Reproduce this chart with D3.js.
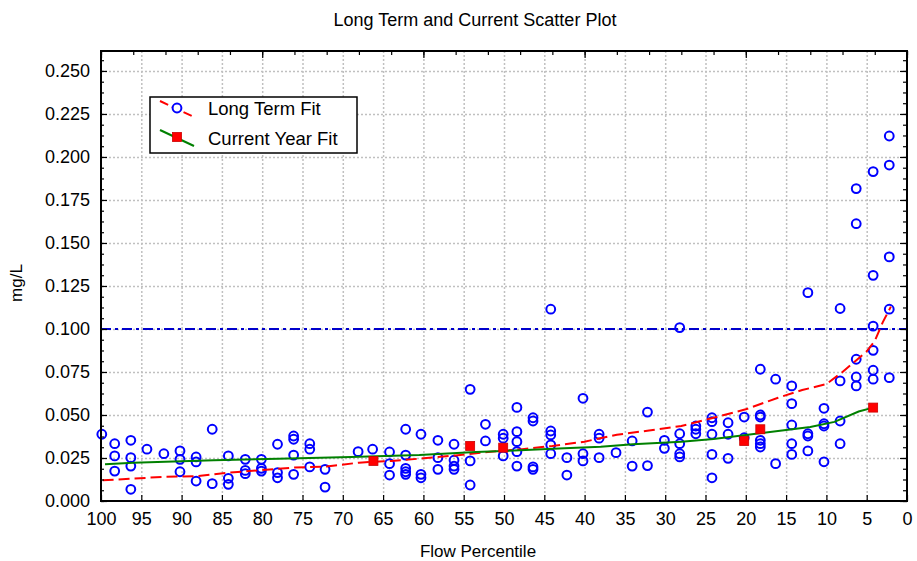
<!DOCTYPE html>
<html>
<head>
<meta charset="utf-8">
<script src="https://cdn.jsdelivr.net/npm/d3@7"></script>
<style>
  body { margin: 0; background: #fff; }
  text { font-family: "Liberation Sans", Arial, sans-serif; }
  .grid line { stroke: #c0c0c0; stroke-width: 1.5; stroke-dasharray: 2,2; }
  .grid path { display: none; }
  .axis path { display: none; }
  .axis line { stroke: #000; stroke-width: 1.2; }
  .axis text { font-size: 18px; fill: #000; }
</style>
</head>
<body>
<div class="chart"></div>
<script>
// Long term observations (flow percentile, mg/L)
const ltFlow = [
  99.9,
  98.3, 98.3, 98.3,
  96.3, 96.3, 96.3, 96.3,
  94.3, 92.2,
  90.2, 90.2, 90.2,
  88.2, 88.2, 88.2,
  86.2, 86.2,
  84.2, 84.2, 84.2,
  82.1, 82.1, 82.1,
  80.1, 80.1, 80.1,
  78.1, 78.1, 78.1,
  76.1, 76.1, 76.1, 76.1,
  74.1, 74.1, 74.1,
  72.2, 72.2,
  68.1, 66.3,
  64.2, 64.2, 64.2,
  62.2, 62.2, 62.2, 62.2, 62.2,
  60.3, 60.3, 60.3,
  58.2, 58.2, 58.2,
  56.2, 56.2, 56.2, 56.2,
  54.2, 54.2, 54.2,
  52.3, 52.3,
  50.1, 50.1, 50.1,
  48.4, 48.4, 48.4, 48.4, 48.4,
  46.4, 46.4, 46.4, 46.4,
  44.2, 44.2, 44.2, 44.2, 44.2,
  42.2, 42.2,
  40.2, 40.2, 40.2,
  38.2, 38.2, 38.2,
  36.1,
  34.1, 34.1,
  32.2, 32.2,
  30.1, 30.1,
  28.2, 28.2, 28.2, 28.2, 28.2,
  26.2, 26.2, 26.2,
  24.2, 24.2, 24.2, 24.2, 24.2,
  22.2, 22.2, 22.2,
  20.2, 20.2,
  18.2, 18.2, 18.2, 18.2, 18.2, 18.2,
  16.3, 16.3,
  14.3, 14.3, 14.3, 14.3, 14.3,
  12.3, 12.3, 12.3, 12.3,
  10.3, 10.3, 10.3, 10.3,
  8.3, 8.3, 8.3, 8.3,
  6.3, 6.3, 6.3, 6.3, 6.3,
  4.2, 4.2, 4.2, 4.2, 4.2, 4.2,
  2.2, 2.2, 2.2, 2.2, 2.2
];
const ltConc = [
  0.0388,
  0.0333, 0.0262, 0.0174,
  0.0353, 0.0252, 0.0203, 0.0068,
  0.0301, 0.0275,
  0.0291, 0.0242, 0.0170,
  0.0256, 0.0227, 0.0116,
  0.0417, 0.0101,
  0.0262, 0.0132, 0.0097,
  0.0242, 0.0178, 0.0159,
  0.0242, 0.0190, 0.0174,
  0.0330, 0.0165, 0.0135,
  0.0378, 0.0359, 0.0267, 0.0155,
  0.0333, 0.0301, 0.0198,
  0.0184, 0.0081,
  0.0287, 0.0301,
  0.0285, 0.0217, 0.0151,
  0.0417, 0.0267, 0.0190, 0.0170, 0.0155,
  0.0388, 0.0155, 0.0135,
  0.0353, 0.0252, 0.0184,
  0.0330, 0.0237, 0.0203, 0.0184,
  0.0649, 0.0233, 0.0093,
  0.0446, 0.0349,
  0.0388, 0.0365, 0.0262,
  0.0544, 0.0403, 0.0345, 0.0287, 0.0203,
  0.0484, 0.0465, 0.0198, 0.0184,
  0.1115, 0.0407, 0.0384, 0.0326, 0.0275,
  0.0252, 0.0151,
  0.0597, 0.0275, 0.0233,
  0.0388, 0.0365, 0.0252,
  0.0281,
  0.0349, 0.0203,
  0.0517, 0.0206,
  0.0353, 0.0306,
  0.1008, 0.0391, 0.0333, 0.0275, 0.0256,
  0.0436, 0.0417, 0.0391,
  0.0484, 0.0461, 0.0388, 0.0271, 0.0135,
  0.0455, 0.0388, 0.0248,
  0.0488, 0.0368,
  0.0766, 0.0500, 0.0488, 0.0353, 0.0333, 0.0314,
  0.0708, 0.0217,
  0.0669, 0.0566, 0.0442, 0.0333, 0.0271,
  0.1211, 0.0391, 0.0378, 0.0291,
  0.0539, 0.0449, 0.0436, 0.0228,
  0.1119, 0.0698, 0.0465, 0.0333,
  0.1816, 0.1612, 0.0824, 0.0721, 0.0669,
  0.1915, 0.1312, 0.1017, 0.0876, 0.0760, 0.0708,
  0.2122, 0.1953, 0.1419, 0.1115, 0.0717
];

// Long term fit curve
const ltFitFlow = [99.8, 96, 92, 88, 84, 80, 76, 72, 68, 64, 60, 56, 52, 48, 44, 40, 36, 32, 28, 24, 20, 16, 13, 10, 8, 6.5, 5, 4, 3, 2];
const ltFitConc = [0.012, 0.013, 0.0141, 0.0145, 0.0165, 0.018, 0.0195, 0.0200, 0.0223, 0.0233, 0.0248, 0.0265, 0.0285, 0.0300, 0.0320, 0.0345, 0.0385, 0.0410, 0.0436, 0.0484, 0.0533, 0.0600, 0.0645, 0.0680, 0.0750, 0.0810, 0.0870, 0.0930, 0.1040, 0.1130];

// Current year fit curve and samples
const cyFitFlow = [99.5, 96, 86, 78, 69, 60.5, 53.5, 48, 42.5, 38, 34, 28, 24, 20, 16, 12, 9, 6, 4.2];
const cyFitConc = [0.0213, 0.0223, 0.0237, 0.0246, 0.0256, 0.0267, 0.0285, 0.0295, 0.0306, 0.0316, 0.0330, 0.0345, 0.0360, 0.0384, 0.0407, 0.0430, 0.0460, 0.0520, 0.0543];
const cyFlow = [66.2, 54.2, 50.1, 20.2, 18.2, 4.2];
const cyConc = [0.0233, 0.0320, 0.0310, 0.0349, 0.0417, 0.0543];

const threshold = 0.100;
const xTicks = [100, 95, 90, 85, 80, 75, 70, 65, 60, 55, 50, 45, 40, 35, 30, 25, 20, 15, 10, 5, 0];
const yTicks = [0, 0.025, 0.05, 0.075, 0.1, 0.125, 0.15, 0.175, 0.2, 0.225, 0.25];

const margin = { top: 51, right: 10, bottom: 60, left: 101 },
    width = 917 - margin.left - margin.right,
    height = 561 - margin.top - margin.bottom;

const root = d3.select(".chart")
    .append("svg")
    .attr("width", 917)
    .attr("height", 561);

const svg = root.append("g")
    .attr("transform", "translate(" + margin.left + "," + margin.top + ")");

const scaleX = d3.scaleLinear().domain([100, 0]).range([0, width]);
const scaleY = d3.scaleLinear().domain([0, 0.2616]).range([height, 0]);

// Grid
svg.append("g")
    .attr("class", "grid")
    .attr("transform", "translate(0," + height + ")")
    .call(d3.axisBottom(scaleX).tickValues(xTicks.slice(1, -1)).tickSize(-height).tickFormat(""));

svg.append("g")
    .attr("class", "grid")
    .call(d3.axisLeft(scaleY).tickValues(yTicks.slice(1)).tickSize(-width).tickFormat(""));

// Threshold line
svg.append("line")
    .attr("x1", 0).attr("x2", width)
    .attr("y1", scaleY(threshold)).attr("y2", scaleY(threshold))
    .attr("stroke", "#0000cc")
    .attr("stroke-width", 2)
    .attr("stroke-dasharray", "10,4,3,4");

// Long term points
svg.append("g")
    .selectAll("circle")
    .data(ltFlow)
    .enter().append("circle")
    .attr("cx", (d) => scaleX(d))
    .attr("cy", (d, i) => scaleY(ltConc[i]))
    .attr("r", 4.4)
    .attr("fill", "none")
    .attr("stroke", "#0000ff")
    .attr("stroke-width", 2);

const lineFunc = d3.line()
    .x((d) => scaleX(d[0]))
    .y((d) => scaleY(d[1]));

// Long term fit
svg.append("path")
    .attr("d", lineFunc(d3.zip(ltFitFlow, ltFitConc)))
    .attr("fill", "none")
    .attr("stroke", "#ff0000")
    .attr("stroke-width", 2)
    .attr("stroke-dasharray", "11,5");

// Current year fit
svg.append("path")
    .attr("d", lineFunc(d3.zip(cyFitFlow, cyFitConc)))
    .attr("fill", "none")
    .attr("stroke", "#008000")
    .attr("stroke-width", 2);

svg.append("g")
    .selectAll("rect")
    .data(cyFlow)
    .enter().append("rect")
    .attr("x", (d) => scaleX(d) - 4.5)
    .attr("y", (d, i) => scaleY(cyConc[i]) - 4.5)
    .attr("width", 9)
    .attr("height", 9)
    .attr("fill", "#ff0000")
    .attr("stroke", "#cc0000")
    .attr("stroke-width", 0.8);

// Axes (ticks point inward)
svg.append("g")
    .attr("class", "axis")
    .attr("transform", "translate(0," + height + ")")
    .call(d3.axisBottom(scaleX).tickValues(xTicks).tickSize(-6).tickPadding(11).tickFormat(d3.format("d")));

svg.append("g")
    .attr("class", "axis")
    .call(d3.axisLeft(scaleY).tickValues(yTicks).tickSize(-6).tickPadding(11).tickFormat(d3.format(".3f")));

svg.append("g")
    .attr("class", "axis")
    .call(d3.axisLeft(scaleY).tickValues(d3.range(0, 0.26, 0.00625)).tickSize(-3).tickFormat(""));

svg.append("g")
    .attr("class", "axis")
    .attr("transform", "translate(" + width + ",0)")
    .call(d3.axisRight(scaleY).tickValues(d3.range(0, 0.26, 0.00625)).tickSize(-4).tickFormat(""));

svg.append("g")
    .attr("class", "axis")
    .attr("transform", "translate(" + width + ",0)")
    .call(d3.axisRight(scaleY).tickValues(yTicks).tickSize(-7).tickFormat(""));

svg.append("g")
    .attr("class", "axis")
    .call(d3.axisTop(scaleX).tickValues(d3.range(0, 101, 4)).tickSize(-4).tickFormat(""));

svg.append("g")
    .attr("class", "axis")
    .call(d3.axisTop(scaleX).tickValues(d3.range(0, 101, 20)).tickSize(-7).tickFormat(""));

// Frame
svg.append("rect")
    .attr("width", width)
    .attr("height", height)
    .attr("fill", "none")
    .attr("stroke", "#000")
    .attr("stroke-width", 2);

// Titles
root.append("text")
    .attr("x", 475)
    .attr("y", 26)
    .attr("text-anchor", "middle")
    .attr("font-size", 18)
    .text("Long Term and Current Scatter Plot");

root.append("text")
    .attr("x", 478)
    .attr("y", 557)
    .attr("text-anchor", "middle")
    .attr("font-size", 17)
    .text("Flow Percentile");

root.append("text")
    .attr("transform", "translate(22,283) rotate(-90)")
    .attr("text-anchor", "middle")
    .attr("font-size", 17)
    .text("mg/L");

// Legend
const legend = root.append("g").attr("transform", "translate(150,97)");

legend.append("rect")
    .attr("width", 207)
    .attr("height", 56)
    .attr("fill", "#fff")
    .attr("stroke", "#000")
    .attr("stroke-width", 1.5);

legend.append("line")
    .attr("x1", 10).attr("x2", 44).attr("y1", 4).attr("y2", 20)
    .attr("stroke", "#ff0000").attr("stroke-width", 2).attr("stroke-dasharray", "9,4");
legend.append("circle")
    .attr("cx", 27).attr("cy", 11).attr("r", 4.4)
    .attr("fill", "#fff").attr("stroke", "#0000ff").attr("stroke-width", 2);
legend.append("text")
    .attr("x", 58).attr("y", 18)
    .attr("font-size", 18.5)
    .text("Long Term Fit");

legend.append("line")
    .attr("x1", 10).attr("x2", 44).attr("y1", 33).attr("y2", 49)
    .attr("stroke", "#008000").attr("stroke-width", 2);
legend.append("rect")
    .attr("x", 22.5).attr("y", 35.5).attr("width", 9).attr("height", 9)
    .attr("fill", "#ff0000").attr("stroke", "#cc0000").attr("stroke-width", 0.8);
legend.append("text")
    .attr("x", 58).attr("y", 48)
    .attr("font-size", 18.5)
    .text("Current Year Fit");
</script>
</body>
</html>
